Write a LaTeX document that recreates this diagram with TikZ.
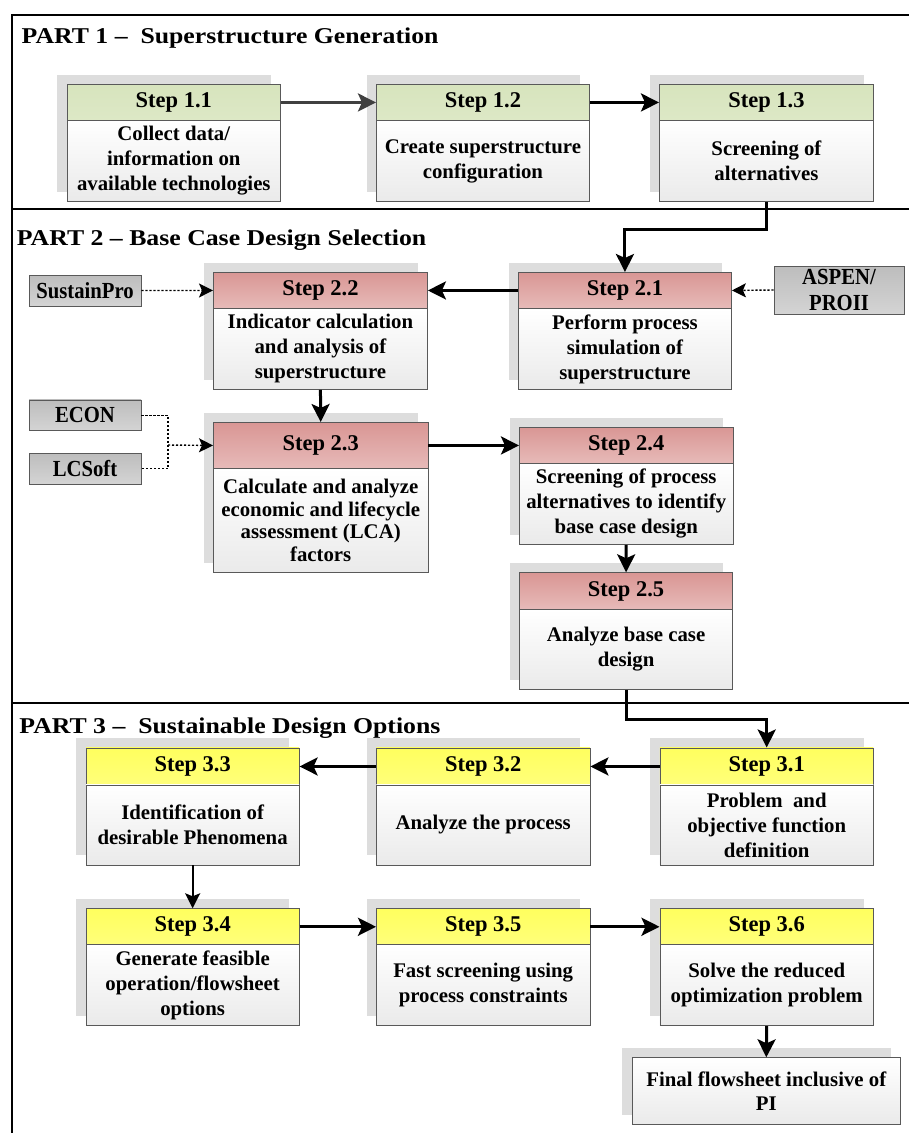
\documentclass[tikz,border=0pt]{standalone}
\usepackage{fontspec}
\setmainfont{Liberation Serif}
\newfontfamily\titlefont{Liberation Serif}[FakeStretch=1.14]
\newfontfamily\toolfont{Liberation Serif}[FakeStretch=0.9]
\usetikzlibrary{arrows.meta}
\definecolor{bordc}{HTML}{595959}
\definecolor{shadc}{HTML}{DDDDDD}
\definecolor{grn}{HTML}{D7E4BD}
\definecolor{grnb}{HTML}{DDE8C6}
\definecolor{redt}{HTML}{D99694}
\definecolor{redb}{HTML}{E7BAB9}
\definecolor{ylw}{HTML}{FFFF5E}
\definecolor{ylwb}{HTML}{FFFF7A}
\definecolor{bodyb}{HTML}{EAEAEA}
\definecolor{toolt}{HTML}{BDBDBD}
\definecolor{toolb}{HTML}{D4D4D4}
\definecolor{arrgray}{HTML}{404040}
\tikzset{
  frameline/.style={line width=2.8pt, line cap=rect},
  ptitle/.style={anchor=base west, inner sep=0pt, font=\titlefont\bfseries\fontsize{22.6}{24}\selectfont},
  hdr/.style={draw=bordc, line width=0.9pt, anchor=north west, inner sep=0pt,
    font=\bfseries\fontsize{22.5}{25}\selectfont},
  hgreen/.style={top color=grn, bottom color=grnb},
  hred/.style={top color=redt, bottom color=redb},
  hyellow/.style={top color=ylw, bottom color=ylwb},
  bodyext/.style={},
  bodybox/.style={draw=bordc, line width=0.9pt, anchor=north west, inner sep=0pt,
    top color=white, bottom color=bodyb, align=center,
    font=\bfseries\fontsize{20.8}{25}\selectfont, bodyext},
  toolbox/.style={draw=bordc, line width=0.9pt, inner sep=0pt, top color=toolt, bottom color=toolb,
    align=center, font=\toolfont\bfseries\fontsize{23}{25.5}\selectfont},
  arr/.style={line width=3pt, -{Stealth[length=18pt,width=18pt,inset=4pt]}},
  arrthin/.style={line width=1.8pt, -{Stealth[length=15pt,width=15pt,inset=3pt]}},
  dotline/.style={line width=1.4pt, dash pattern=on 2.2pt off 1.8pt},
  dotarr/.style={dotline, -{Stealth[length=14pt,width=14pt,inset=3pt]}},
}
% #1 name, #2 x, #3 y, #4 width, #5 header height, #6 body height, #7 header style, #8 header text, #9 body text
\newcommand\mkstep[9]{%
  \fill[shadc] (#2-9.5,#3-9.5) rectangle ++(#4,#5+#6);
  \node[hdr,#7,minimum width=#4,minimum height=#5] (#1h) at (#2,#3) {#8};
  \node[bodybox,minimum width=#4,minimum height=#6] (#1) at (#2,#3+#5) {#9};
}
\begin{document}
\begin{tikzpicture}[x=1pt,y=-1pt]
\useasboundingbox (0,0) rectangle (909,1133);
% frame
\draw[frameline] (12,1140) -- (12,15) -- (915,15);
\draw[frameline] (12,209) -- (915,209);
\draw[frameline] (12,703) -- (915,703);
% titles
\node[ptitle] (t1) at (21.5,43) {PART 1 –\ \ Superstructure Generation};
\node[ptitle] (t2) at (16.7,245.5) {PART 2 – Base Case Design Selection};
\node[ptitle] (t3) at (19.3,733) {PART 3 –\ \ Sustainable Design Options};
% part 1
\mkstep{s11}{66.7}{84}{213.3}{36}{81}{hgreen}{Step 1.1}{Collect data/\\information on\\available technologies}
\mkstep{s12}{376}{84}{213}{36}{81}{hgreen}{Step 1.2}{Create superstructure\\configuration}
\mkstep{s13}{659}{84}{214}{36}{81}{hgreen}{Step 1.3}{Screening of\\alternatives}
% part 2
\mkstep{s21}{518}{272}{213}{36}{81}{hred}{Step 2.1}{Perform process\\simulation of\\superstructure}
\mkstep{s22}{213}{272}{214}{36}{81}{hred}{Step 2.2}{Indicator calculation\\and analysis of\\superstructure}
\begin{scope}[bodyext/.style={font=\bfseries\fontsize{20.8}{22.6}\selectfont}]
\mkstep{s23}{213}{422}{214.5}{46}{104}{hred}{Step 2.3}{Calculate and analyze\\economic and lifecycle\\assessment (LCA)\\factors}
\end{scope}
\mkstep{s24}{519}{427}{213.5}{36}{81}{hred}{Step 2.4}{Screening of process\\alternatives to identify\\base case design}
\mkstep{s25}{519}{572.3}{213.3}{36.7}{80}{hred}{Step 2.5}{Analyze base case\\design}
% tools
\node[toolbox,minimum width=112,minimum height=31] (sust) at (85,290.5) {SustainPro};
\node[toolbox,minimum width=112,minimum height=30.7] (econ) at (85,415.3) {ECON};
\node[toolbox,minimum width=112,minimum height=31] (lcs) at (85,468.5) {LCSoft};
\node[toolbox,minimum width=130,minimum height=48] (aspen) at (839,290) {ASPEN/\\PROII};
% part 3
\mkstep{s31}{659.5}{747.5}{213.5}{37}{80}{hyellow}{Step 3.1}{Problem\ \ and\\objective function\\definition}
\mkstep{s32}{376}{747.5}{213.5}{37}{80}{hyellow}{Step 3.2}{Analyze the process}
\mkstep{s33}{85.7}{747.5}{213}{37}{80}{hyellow}{Step 3.3}{Identification of\\desirable Phenomena}
\mkstep{s34}{85.7}{908.3}{213}{36}{81}{hyellow}{Step 3.4}{Generate feasible\\operation/flowsheet\\options}
\mkstep{s35}{376}{908.3}{213.5}{36}{81}{hyellow}{Step 3.5}{Fast screening using\\process constraints}
\mkstep{s36}{659.5}{908.3}{213.5}{36}{81}{hyellow}{Step 3.6}{Solve the reduced\\optimization problem}
% final
\fill[shadc] (622.3,1048.3) rectangle ++(268.3,66.7);
\node[bodybox,minimum width=268.3,minimum height=66.7,font=\bfseries\fontsize{20.8}{23.3}\selectfont] (fin) at (631.7,1057.3) {Final flowsheet inclusive of\\PI};
% connectors
\draw[arr,draw=arrgray,fill=arrgray] (s11h.east) -- (s12h.west);
\draw[arr] (s12h.east) -- (s13h.west);
\draw[arr] (s13.south) -- ++(0,27.5) -| (s21h.north);
\draw[arr] (s21h.west) -- (s22h.east);
\draw[dotarr] (aspen.west) -- (s21h.east);
\draw[dotarr] (sust.east) -- (s22h.west);
\draw[arr] (s22.south) -- (s23h.north);
\coordinate (j2) at (168,445);
\draw[dotline] (econ.east) -| (j2) |- (lcs.east);
\draw[dotarr] (j2) -- (s23h.west);
\draw[arr] (s23h.east) -- (s24h.west);
\draw[arr] (s24.south) -- (s25h.north);
\draw[arr] (s25.south) -- ++(0,30) -| (s31h.north);
\draw[arr] (s31h.west) -- (s32h.east);
\draw[arr] (s32h.west) -- (s33h.east);
\draw[arrthin] (s33.south) -- (s34h.north);
\draw[arr] (s34h.east) -- (s35h.west);
\draw[arr] (s35h.east) -- (s36h.west);
\draw[arr] (s36.south) -- (fin.north);
\end{tikzpicture}
\end{document}
